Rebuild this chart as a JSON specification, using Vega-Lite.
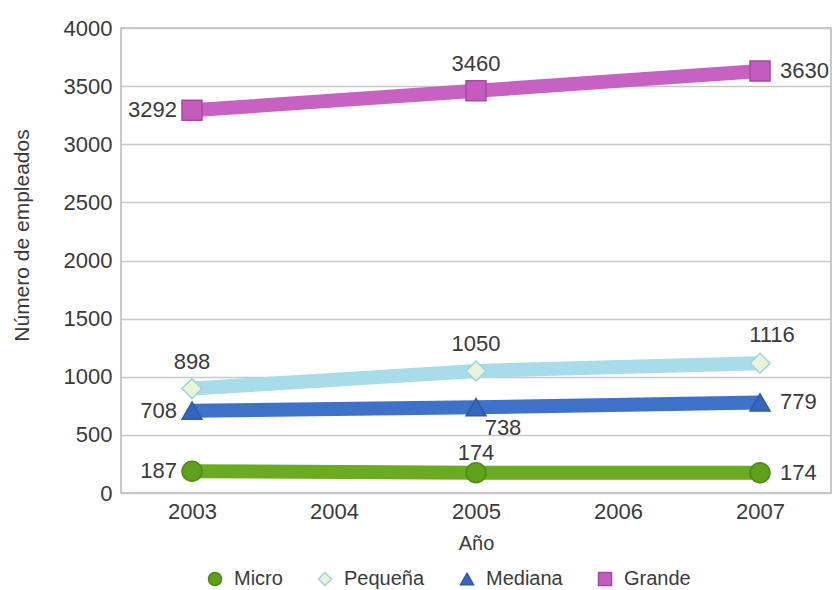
{
  "$schema": "https://vega.github.io/schema/vega-lite/v6.json",
  "autosize": "none",
  "width": 710,
  "height": 465,
  "padding": {"left": 121, "top": 28, "right": 7, "bottom": 97},
  "background": "white",
  "config": {
    "font": "Liberation Sans",
    "view": {"stroke": "#b8b8b8", "strokeWidth": 1.5},
    "axis": {"labelFont": "Liberation Sans", "titleFont": "Liberation Sans", "labelColor": "#3a3a3a", "titleColor": "#3a3a3a", "titleFontWeight": "normal"}
  },
  "resolve": {"legend": {"color": "independent", "shape": "independent", "fill": "independent", "stroke": "independent"}},
  "data": {"values": [
    {"year": "2003", "tipo": "Micro", "valor": 187},
    {"year": "2005", "tipo": "Micro", "valor": 174},
    {"year": "2007", "tipo": "Micro", "valor": 174},
    {"year": "2003", "tipo": "Pequeña", "valor": 898},
    {"year": "2005", "tipo": "Pequeña", "valor": 1050},
    {"year": "2007", "tipo": "Pequeña", "valor": 1116},
    {"year": "2003", "tipo": "Mediana", "valor": 708},
    {"year": "2005", "tipo": "Mediana", "valor": 738},
    {"year": "2007", "tipo": "Mediana", "valor": 779},
    {"year": "2003", "tipo": "Grande", "valor": 3292},
    {"year": "2005", "tipo": "Grande", "valor": 3460},
    {"year": "2007", "tipo": "Grande", "valor": 3630}
  ]},
  "encoding": {
    "x": {
      "field": "year", "type": "ordinal",
      "scale": {"type": "point", "domain": ["2003", "2004", "2005", "2006", "2007"], "padding": 0.5},
      "axis": {"title": "Año", "labelAngle": 0, "labelFontSize": 22, "titleFontSize": 20, "ticks": false, "domain": false, "grid": false, "labelPadding": 8, "titlePadding": 11}
    },
    "y": {
      "field": "valor", "type": "quantitative",
      "scale": {"domain": [0, 4000], "nice": false},
      "axis": {"title": "Número de empleados", "format": "d", "values": [0, 500, 1000, 1500, 2000, 2500, 3000, 3500, 4000], "labelFontSize": 22, "titleFontSize": 21, "ticks": false, "domain": false, "gridColor": "#c8c8c8", "gridWidth": 1.5, "labelPadding": 9, "titleX": -99, "titleY": 207, "titleAngle": -90, "titleAlign": "center", "titleBaseline": "middle"}
    }
  },
  "layer": [
    {
      "mark": {"type": "line", "strokeWidth": 14},
      "encoding": {
        "color": {"field": "tipo", "type": "nominal", "scale": {"domain": ["Micro", "Pequeña", "Mediana", "Grande"], "range": ["#6aab22", "#a9dcea", "#3e72c8", "#c862c2"]}, "legend": null},
        "detail": {"field": "tipo"}
      }
    },
    {
      "mark": {"type": "point", "filled": true, "size": 400, "opacity": 1, "strokeWidth": 1.5},
      "encoding": {
        "shape": {"field": "tipo", "type": "nominal", "scale": {"domain": ["Micro", "Pequeña", "Mediana", "Grande"], "range": ["circle", "diamond", "triangle-up", "square"]},
          "legend": {"title": null, "orient": "none", "direction": "horizontal", "legendX": 84, "legendY": 541, "labelFontSize": 20, "labelColor": "#3a3a3a", "labelFont": "Liberation Sans", "symbolSize": 170, "columnPadding": 32, "labelOffset": 9}},
        "fill": {"field": "tipo", "type": "nominal", "scale": {"domain": ["Micro", "Pequeña", "Mediana", "Grande"], "range": ["#5fa11c", "#e6f5d8", "#3566bd", "#c45cbd"]}},
        "stroke": {"field": "tipo", "type": "nominal", "scale": {"domain": ["Micro", "Pequeña", "Mediana", "Grande"], "range": ["#4e8a16", "#9fd3e0", "#2e5aa8", "#a8479f"]}}
      }
    },
    {
      "transform": [{"filter": "(datum.tipo === 'Grande' && datum.year === '2003') || (datum.tipo === 'Mediana' && datum.year === '2003') || (datum.tipo === 'Micro' && datum.year === '2003')"}],
      "mark": {"type": "text", "align": "right", "baseline": "middle", "dx": -15, "fontSize": 22, "color": "#3a3a3a"},
      "encoding": {"text": {"field": "valor", "type": "quantitative"}}
    },
    {
      "transform": [{"filter": "(datum.tipo === 'Grande' && datum.year === '2007') || (datum.tipo === 'Mediana' && datum.year === '2007') || (datum.tipo === 'Micro' && datum.year === '2007')"}],
      "mark": {"type": "text", "align": "left", "baseline": "middle", "dx": 20, "fontSize": 22, "color": "#3a3a3a"},
      "encoding": {"text": {"field": "valor", "type": "quantitative"}}
    },
    {
      "transform": [{"filter": "(datum.tipo === 'Grande' && datum.year === '2005') || (datum.tipo === 'Pequeña' && datum.year !== '2007')"}],
      "mark": {"type": "text", "align": "center", "baseline": "middle", "dy": -27, "fontSize": 22, "color": "#3a3a3a"},
      "encoding": {"text": {"field": "valor", "type": "quantitative"}}
    },
    {
      "transform": [{"filter": "datum.tipo === 'Pequeña' && datum.year === '2007'"}],
      "mark": {"type": "text", "align": "center", "baseline": "middle", "dx": 12, "dy": -28, "fontSize": 22, "color": "#3a3a3a"},
      "encoding": {"text": {"field": "valor", "type": "quantitative"}}
    },
    {
      "transform": [{"filter": "datum.tipo === 'Mediana' && datum.year === '2005'"}],
      "mark": {"type": "text", "align": "center", "baseline": "middle", "dx": 27, "dy": 21, "fontSize": 22, "color": "#3a3a3a"},
      "encoding": {"text": {"field": "valor", "type": "quantitative"}}
    },
    {
      "transform": [{"filter": "datum.tipo === 'Micro' && datum.year === '2005'"}],
      "mark": {"type": "text", "align": "center", "baseline": "middle", "dy": -20, "fontSize": 22, "color": "#3a3a3a"},
      "encoding": {"text": {"field": "valor", "type": "quantitative"}}
    }
  ]
}
